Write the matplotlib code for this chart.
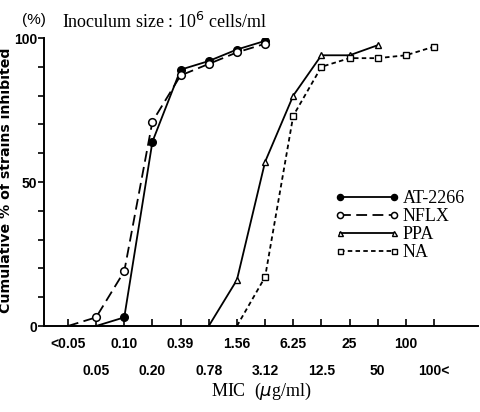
import matplotlib
matplotlib.use("Agg")
import matplotlib.pyplot as plt
import numpy as np

categories = ["<0.05", "0.05", "0.10", "0.20", "0.39", "0.78", "1.56",
              "3.12", "6.25", "12.5", "25", "50", "100", "100<"]

at2266_idx = [1, 2, 3, 4, 5, 6, 7]
at2266_val = [0, 3, 64, 89, 92, 96, 99]
nflx_idx = [0, 1, 2, 3, 4, 5, 6, 7]
nflx_val = [0, 3, 19, 71, 87, 91, 95, 98]
ppa_idx = [5, 6, 7, 8, 9, 10, 11]
ppa_val = [0, 16, 57, 80, 94, 94, 97.5]
na_idx = [6, 7, 8, 9, 10, 11, 12, 13]
na_val = [0, 17, 73, 90, 93, 93, 94, 97]

fig = plt.figure(figsize=(4.8, 4.12), dpi=100)
ax = fig.add_axes([44/480, 1-326/412, 434/480, 288/412])

lw = 1.3
def mk(vals):
    return [i for i, v in enumerate(vals) if v > 0]

ax.plot(at2266_idx, at2266_val, '-', color='black', lw=lw, marker='o', ms=5.5,
        mfc='black', mec='black', markevery=mk(at2266_val), label='AT-2266')
ax.plot(nflx_idx, nflx_val, color='black', lw=lw, ls=(0, (6, 3)), marker='o', ms=5.5,
        mfc='white', mec='black', mew=1.1, markevery=mk(nflx_val), label='NFLX')
ax.plot(ppa_idx, ppa_val, '-', color='black', lw=lw, marker='^', ms=4.5,
        mfc='white', mec='black', mew=1.0, markevery=mk(ppa_val), label='PPA')
ax.plot(na_idx, na_val, color='black', lw=lw, ls=(0, (2.5, 1.8)), marker='s', ms=4.5,
        mfc='white', mec='black', mew=1.0, markevery=mk(na_val), label='NA')

ax.set_xlim(-0.85, 14.56)
ax.set_ylim(0, 100)
ax.spines['top'].set_visible(False)
ax.spines['right'].set_visible(False)
for s in ('left', 'bottom'):
    ax.spines[s].set_linewidth(1.4)

ax.set_xticks(range(len(categories)))
ax.set_xticklabels([c if i % 2 == 0 else "\n" + c for i, c in enumerate(categories)],
                   family=['Liberation Sans', 'DejaVu Sans'], fontweight='bold', fontsize=10,
                   linespacing=2.2)
ax.tick_params(axis='x', direction='in', length=5, width=1.2, pad=8)
ax.set_yticks([0, 50, 100])
ax.set_yticks(np.arange(0, 101, 10), minor=True)
ax.set_yticklabels(["0", "50", "100"], family=['Liberation Sans', 'DejaVu Sans'],
                   fontweight='bold', fontsize=10)
ax.tick_params(axis='y', which='both', direction='out', length=4, width=1.2, pad=1)

ax.set_ylabel("Cumulative % of strains inhibited", family=['DejaVu Sans'],
              fontweight='bold', fontsize=10.2)
ax.yaxis.set_label_coords((13-44)/434, (326-180)/288)
ax.set_xlabel(r"MIC  ($\mu$g/ml)", family=['Liberation Serif'], fontsize=13, labelpad=2)

fig.text(22/480, 1-20/412, "(%)", family=['Liberation Sans', 'DejaVu Sans'],
         fontsize=11, va='center', ha='left')
fig.text(62/480, 1-22/412, r"Inoculum size : 10$^6$ cells/ml", family=['Liberation Serif'],
         fontsize=13, va='center', ha='left')

leg = ax.legend(loc='upper left', bbox_to_anchor=(283/434, 1-(183-38)/288), frameon=False,
                handlelength=3.6, handletextpad=0.2, labelspacing=0.05, borderaxespad=0,
                numpoints=2, markerscale=0.8, prop={'family': 'Liberation Serif', 'size': 13})

fig.savefig("out.png", dpi=100)
